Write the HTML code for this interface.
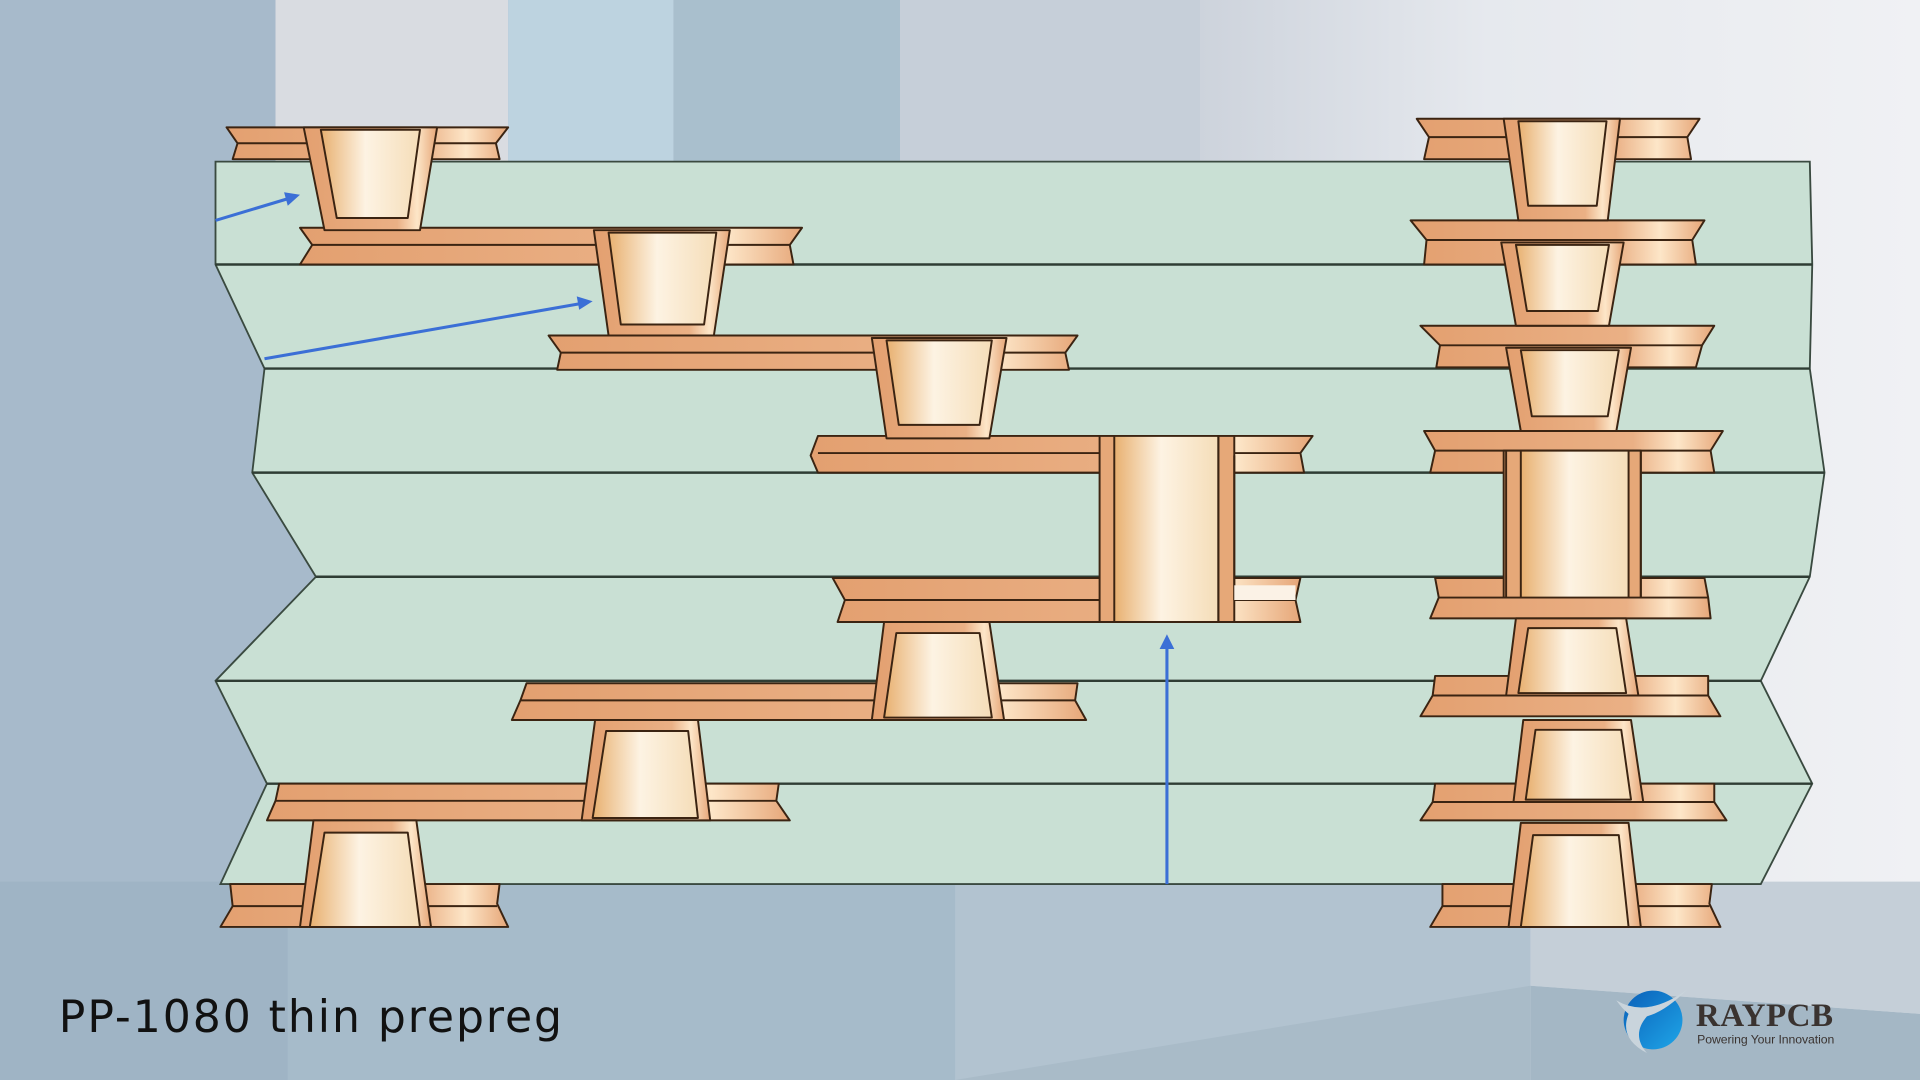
<!DOCTYPE html>
<html><head><meta charset="utf-8"><style>html,body{margin:0;padding:0;overflow:hidden;width:1920px;height:1080px}svg{display:block}</style></head>
<body>
<svg width="1920" height="1080" viewBox="0 0 1568 882" xmlns="http://www.w3.org/2000/svg">
<defs>
<linearGradient id="cu" x1="0" x2="1" y1="0" y2="0"><stop offset="0" stop-color="#e3a070"/><stop offset="0.7" stop-color="#eab085"/><stop offset="0.85" stop-color="#fde6c8"/><stop offset="1" stop-color="#e6a678"/></linearGradient>
<linearGradient id="fill" x1="0" x2="1" y1="0" y2="0"><stop offset="0" stop-color="#e8b070"/><stop offset="0.45" stop-color="#fdf3e3"/><stop offset="1" stop-color="#f5ddb8"/></linearGradient>
<linearGradient id="bgr" x1="0" x2="1"><stop offset="0" stop-color="#cdd3dc"/><stop offset="0.4" stop-color="#e6e9ee"/><stop offset="1" stop-color="#f0f1f4"/></linearGradient>
<linearGradient id="glb" x1="0" x2="1" y1="0" y2="1"><stop offset="0" stop-color="#0a5fb8"/><stop offset="1" stop-color="#1fa6e8"/></linearGradient>
</defs>
<rect width="1568" height="882" fill="#a7bacb"/>
<rect x="225" y="0" width="190" height="140" fill="#d9dce1"/>
<rect x="415" y="0" width="135" height="140" fill="#bdd3e0"/>
<rect x="550" y="0" width="185" height="140" fill="#a9bfcd"/>
<rect x="735" y="0" width="245" height="140" fill="#c6cfd9"/>
<rect x="980" y="0" width="588" height="882" fill="url(#bgr)"/>
<rect x="0" y="720" width="235" height="162" fill="#9fb4c5"/>
<rect x="235" y="720" width="545" height="162" fill="#a6bbca"/>
<rect x="780" y="720" width="470" height="162" fill="#b2c3d0"/>
<polygon points="1250,720 1568,720 1568,828 1250,805" fill="#c5cfd8"/>
<polygon points="1250,805 1568,828 1568,882 1250,882" fill="#a4b7c5"/>
<polygon points="780,882 1250,805 1250,882" fill="#a9bbc8"/>

<polygon points="176,132 1478,132 1480,216 1478,301 1490,386 1478,471 1438,556 1480,640 1438,722 180,722 218,640 176,556 258,471 206,386 216,301 176,216" fill="#c9e0d4" stroke="#3a4a40" stroke-width="1.5"/>
<g stroke="#2f3d34" stroke-width="2">
<line x1="176" y1="216" x2="1480" y2="216"/>
<line x1="216" y1="301" x2="1478" y2="301"/>
<line x1="206" y1="386" x2="1490" y2="386"/>
<line x1="258" y1="471" x2="1478" y2="471"/>
<line x1="176" y1="556" x2="1438" y2="556"/>
<line x1="218" y1="640" x2="1480" y2="640"/>
</g>

<g stroke="#3b2412" stroke-width="1.6" stroke-linejoin="round">
<polygon points="185,104 415,104 405,117 408,130 190,130 194,117" fill="url(#cu)"/>
<line x1="194" y1="117" x2="405" y2="117"/>
<polygon points="245,186 655,186 645,200 648,216 245,216 255,200" fill="url(#cu)"/>
<line x1="255" y1="200" x2="645" y2="200"/>
<polygon points="248,104 357,104 343,188 265,188" fill="url(#cu)"/>
<polygon points="262,106 343,106 333,178 275,178" fill="url(#fill)"/>
<polygon points="448,274 880,274 870,288 873,302 455,302 458,288" fill="url(#cu)"/>
<line x1="458" y1="288" x2="870" y2="288"/>
<polygon points="485,188 596,188 583,274 497,274" fill="url(#cu)"/>
<polygon points="497,190 585,190 575,265 507,265" fill="url(#fill)"/>
<polygon points="668,356 1072,356 1062,370 1065,386 668,386 662,372" fill="url(#cu)"/>
<line x1="668" y1="370" x2="1062" y2="370"/>
<polygon points="712,276 822,276 808,358 724,358" fill="url(#cu)"/>
<polygon points="724,278 810,278 800,347 734,347" fill="url(#fill)"/>
<polygon points="680,472 1062,472 1058,490 1062,508 684,508 690,490" fill="url(#cu)"/>
<line x1="690" y1="490" x2="1058" y2="490"/>
<rect x="898" y="356" width="110" height="152" fill="#e6a878"/>
<rect x="910" y="356" width="85" height="152" fill="url(#fill)"/>
<polyline points="1008,372 1008,490 1058,490" fill="none"/>
<rect x="1008" y="478" width="50" height="12" fill="#fbf2e6" stroke="none"/>
<line x1="995" y1="356" x2="995" y2="508"/>
<polygon points="430,558 880,558 878,572 887,588 418,588 425,572" fill="url(#cu)"/>
<line x1="425" y1="572" x2="878" y2="572"/>
<polygon points="722,508 808,508 820,588 712,588" fill="url(#cu)"/>
<polygon points="732,517 800,517 810,586 722,586" fill="url(#fill)"/>
<polygon points="228,640 636,640 634,654 645,670 218,670 225,654" fill="url(#cu)"/>
<line x1="225" y1="654" x2="634" y2="654"/>
<polygon points="486,588 570,588 580,670 475,670" fill="url(#cu)"/>
<polygon points="495,597 562,597 570,668 484,668" fill="url(#fill)"/>
<polygon points="188,722 408,722 406,738 415,757 180,757 190,740" fill="url(#cu)"/>
<line x1="190" y1="740" x2="406" y2="740"/>
<polygon points="256,670 340,670 352,757 245,757" fill="url(#cu)"/>
<polygon points="265,680 333,680 343,757 253,757" fill="url(#fill)"/>

<polygon points="1157,97 1388,97 1378,112 1381,130 1163,130 1167,112" fill="url(#cu)"/>
<line x1="1167" y1="112" x2="1378" y2="112"/>
<polygon points="1152,180 1392,180 1382,196 1385,216 1163,216 1165,196" fill="url(#cu)"/>
<line x1="1165" y1="196" x2="1382" y2="196"/>
<polygon points="1228,97 1323,97 1313,180 1240,180" fill="url(#cu)"/>
<polygon points="1240,99 1312,99 1304,168 1248,168" fill="url(#fill)"/>
<polygon points="1160,266 1400,266 1390,282 1385,300 1173,300 1176,282" fill="url(#cu)"/>
<line x1="1176" y1="282" x2="1390" y2="282"/>
<polygon points="1226,198 1326,198 1314,266 1238,266" fill="url(#cu)"/>
<polygon points="1238,200 1314,200 1305,254 1247,254" fill="url(#fill)"/>
<polygon points="1163,352 1407,352 1397,368 1400,386 1168,386 1172,368" fill="url(#cu)"/>
<line x1="1172" y1="368" x2="1397" y2="368"/>
<polygon points="1230,284 1332,284 1320,352 1242,352" fill="url(#cu)"/>
<polygon points="1242,286 1322,286 1313,340 1251,340" fill="url(#fill)"/>
<polygon points="1172,472 1392,472 1395,488 1397,505 1168,505 1175,488" fill="url(#cu)"/>
<line x1="1175" y1="488" x2="1395" y2="488"/>
<rect x="1228" y="368" width="112" height="120" fill="#e6a878"/>
<rect x="1242" y="368" width="88" height="120" fill="url(#fill)"/>
<line x1="1230" y1="368" x2="1230" y2="488"/><line x1="1340" y1="368" x2="1340" y2="488"/>
<polygon points="1172,552 1395,552 1395,568 1405,585 1160,585 1170,568" fill="url(#cu)"/>
<line x1="1170" y1="568" x2="1395" y2="568"/>
<polygon points="1238,505 1328,505 1338,568 1230,568" fill="url(#cu)"/>
<polygon points="1248,513 1320,513 1328,566 1240,566" fill="url(#fill)"/>
<polygon points="1172,640 1400,640 1400,655 1410,670 1160,670 1170,655" fill="url(#cu)"/>
<line x1="1170" y1="655" x2="1400" y2="655"/>
<polygon points="1244,588 1332,588 1342,655 1236,655" fill="url(#cu)"/>
<polygon points="1254,596 1324,596 1332,653 1246,653" fill="url(#fill)"/>
<polygon points="1178,722 1398,722 1396,738 1405,757 1168,757 1178,740" fill="url(#cu)"/>
<line x1="1178" y1="740" x2="1396" y2="740"/>
<polygon points="1242,672 1330,672 1340,757 1232,757" fill="url(#cu)"/>
<polygon points="1252,682 1322,682 1330,757 1242,757" fill="url(#fill)"/>
</g>

<g stroke="#3b6fd6" stroke-width="2.5" fill="#3b6fd6">
<line x1="176" y1="180" x2="236" y2="162"/>
<polygon points="245,159 232,157 235,168" stroke="none"/>
<line x1="216" y1="293" x2="474" y2="248"/>
<polygon points="484,246 471,242 473,253" stroke="none"/>
<line x1="953" y1="722" x2="953" y2="528"/>
<polygon points="953,518 947,530 959,530" stroke="none"/>
</g>

<text x="48" y="843" font-family="'DejaVu Sans',sans-serif" font-size="36" fill="#111" textLength="411">PP-1080 thin prepreg</text>
<circle cx="1350" cy="833" r="24" fill="url(#glb)"/>
<path d="M1320,817 Q1345,832 1378,808 Q1360,826 1345,830 Q1332,845 1345,860 Q1322,848 1330,828 Q1325,824 1320,817Z" fill="#c9d4dc"/>
<text x="1385" y="838" font-family="'Liberation Serif','DejaVu Serif',serif" font-weight="bold" font-size="27" fill="#3a3330" textLength="112">RAYPCB</text>
<text x="1386" y="852" font-family="'Liberation Sans',sans-serif" font-size="10" fill="#3a3330" textLength="112">Powering Your Innovation</text>
</svg>
</body></html>
